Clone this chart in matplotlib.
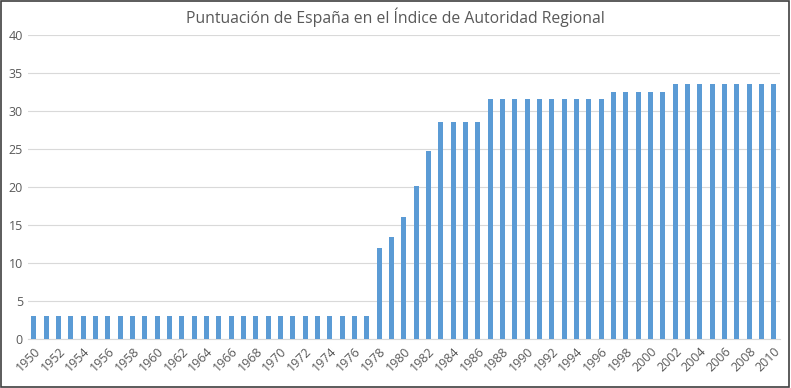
import matplotlib
matplotlib.use('Agg')
import matplotlib.pyplot as plt
from matplotlib.patches import Rectangle

years = list(range(1950, 2011))
scores = (
    [3.0] * 28                      # 1950-1977
    + [12.0, 13.4, 16.0, 20.1, 24.7]  # 1978-1982
    + [28.6] * 4                    # 1983-1986
    + [31.6] * 10                   # 1987-1996
    + [32.5] * 5                    # 1997-2001
    + [33.5] * 9                    # 2002-2010
)
tick_years = years[::2]
title = 'Puntuación de España en el Índice de Autoridad Regional'

plt.rcParams['font.family'] = ['Open Sans', 'DejaVu Sans']

fig = plt.figure(figsize=(7.91, 3.88), dpi=100)
ax = fig.add_axes([0.035, 0.126, 0.951, 0.784])

ax.bar(years, scores, width=0.42, color='#5B9BD5', zorder=3)

ax.set_xlim(1949.5, 2010.5)
ax.set_ylim(0, 40)
ax.set_yticks(range(0, 41, 5))
ax.set_xticks(tick_years)
ax.set_xticklabels([str(y) for y in tick_years], rotation=45, ha='right',
                   rotation_mode='anchor')
ax.tick_params(axis='both', length=0, labelsize=9, colors='#595959')
ax.tick_params(axis='x', pad=4)
ax.grid(axis='y', color='#D9D9D9', linewidth=0.8, zorder=0)
for side in ['top', 'right', 'left']:
    ax.spines[side].set_visible(False)
ax.spines['bottom'].set_color('#D9D9D9')

fig.text(0.5, 0.955, title, ha='center', va='center', fontsize=11.3,
         color='#595959')

fig.patches.append(Rectangle((0.001, 0.002), 0.997, 0.995,
                             transform=fig.transFigure, fill=False,
                             edgecolor='#404040', linewidth=1.2))

plt.savefig('out.png', dpi=100)
plt.close()
